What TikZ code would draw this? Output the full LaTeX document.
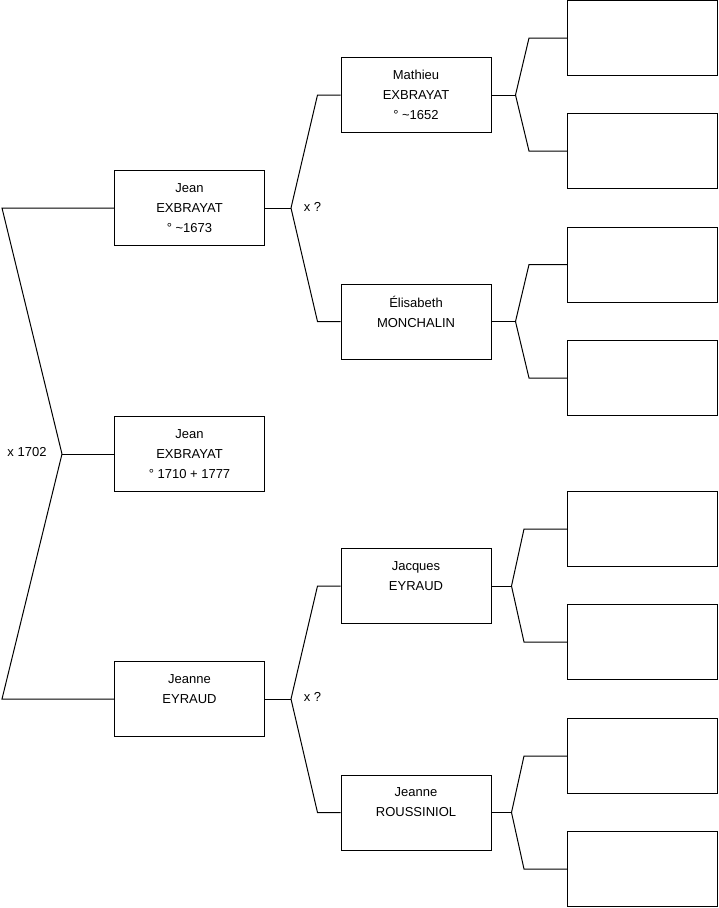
\documentclass[tikz,border=0pt]{standalone}
\usepackage{fontspec}
\setmainfont{Liberation Sans}
\begin{document}
\begin{tikzpicture}[x=1pt,y=-1pt,
  person/.style={draw=black,line width=1pt,rectangle,minimum width=150pt,minimum height=75pt,inner sep=0pt,align=center,font=\fontsize{13}{20}\selectfont},
  link/.style={draw=black,line width=1pt},
  lbl/.style={inner sep=0pt,font=\fontsize{13}{15}\selectfont}]
\useasboundingbox (0,0) rectangle (719,908);
% generation 1
\node[person] (root) at (189.5,454) {Jean\\EXBRAYAT\\° 1710 + 1777};
% generation 2
\node[person] (jean) at (189.5,208) {Jean\\EXBRAYAT\\° \textasciitilde1673};
\node[person] (jeanne) at (189.5,699) {Jeanne\\EYRAUD\\\mbox{}};
% generation 3
\node[person] (mathieu) at (416,95) {Mathieu\\EXBRAYAT\\° \textasciitilde1652};
\node[person] (elisabeth) at (416,321.5) {Élisabeth\\MONCHALIN\\\mbox{}};
\node[person] (jacques) at (416,586) {Jacques\\EYRAUD\\\mbox{}};
\node[person] (roussiniol) at (416,812.5) {Jeanne\\ROUSSINIOL\\\mbox{}};
% generation 4
\node[person] (g1) at (642.5,38) {};
\node[person] (g2) at (642.5,151) {};
\node[person] (g3) at (642.5,264.5) {};
\node[person] (g4) at (642.5,378) {};
\node[person] (g5) at (642.5,529) {};
\node[person] (g6) at (642.5,642) {};
\node[person] (g7) at (642.5,756) {};
\node[person] (g8) at (642.5,869) {};
% labels
\node[lbl] (m0) at (27,452) {x 1702};
\node[lbl] (m1) at (312.5,207) {x ?};
\node[lbl] (m2) at (312.5,697) {x ?};
% forks
\draw[link] (root.west) -- ++(-52,0) coordinate (f0);
\draw[link] (f0) -- ([xshift=-112]jean.west) -- (jean.west);
\draw[link] (f0) -- ([xshift=-112]jeanne.west) -- (jeanne.west);
\draw[link] (jean.east) -- ++(26,0) coordinate (f1);
\draw[link] (f1) -- ([xshift=-23]mathieu.west) -- (mathieu.west);
\draw[link] (f1) -- ([xshift=-23]elisabeth.west) -- (elisabeth.west);
\draw[link] (jeanne.east) -- ++(26,0) coordinate (f2);
\draw[link] (f2) -- ([xshift=-23]jacques.west) -- (jacques.west);
\draw[link] (f2) -- ([xshift=-23]roussiniol.west) -- (roussiniol.west);
\draw[link] (mathieu.east) -- ++(24,0) coordinate (f3);
\draw[link] (f3) -- ([xshift=-38]g1.west) -- (g1.west);
\draw[link] (f3) -- ([xshift=-38]g2.west) -- (g2.west);
\draw[link] (elisabeth.east) -- ++(24,0) coordinate (f4);
\draw[link] (f4) -- ([xshift=-38]g3.west) -- (g3.west);
\draw[link] (f4) -- ([xshift=-38]g4.west) -- (g4.west);
\draw[link] (jacques.east) -- ++(20,0) coordinate (f5);
\draw[link] (f5) -- ([xshift=-43]g5.west) -- (g5.west);
\draw[link] (f5) -- ([xshift=-43]g6.west) -- (g6.west);
\draw[link] (roussiniol.east) -- ++(20,0) coordinate (f6);
\draw[link] (f6) -- ([xshift=-43]g7.west) -- (g7.west);
\draw[link] (f6) -- ([xshift=-43]g8.west) -- (g8.west);
\end{tikzpicture}
\end{document}
